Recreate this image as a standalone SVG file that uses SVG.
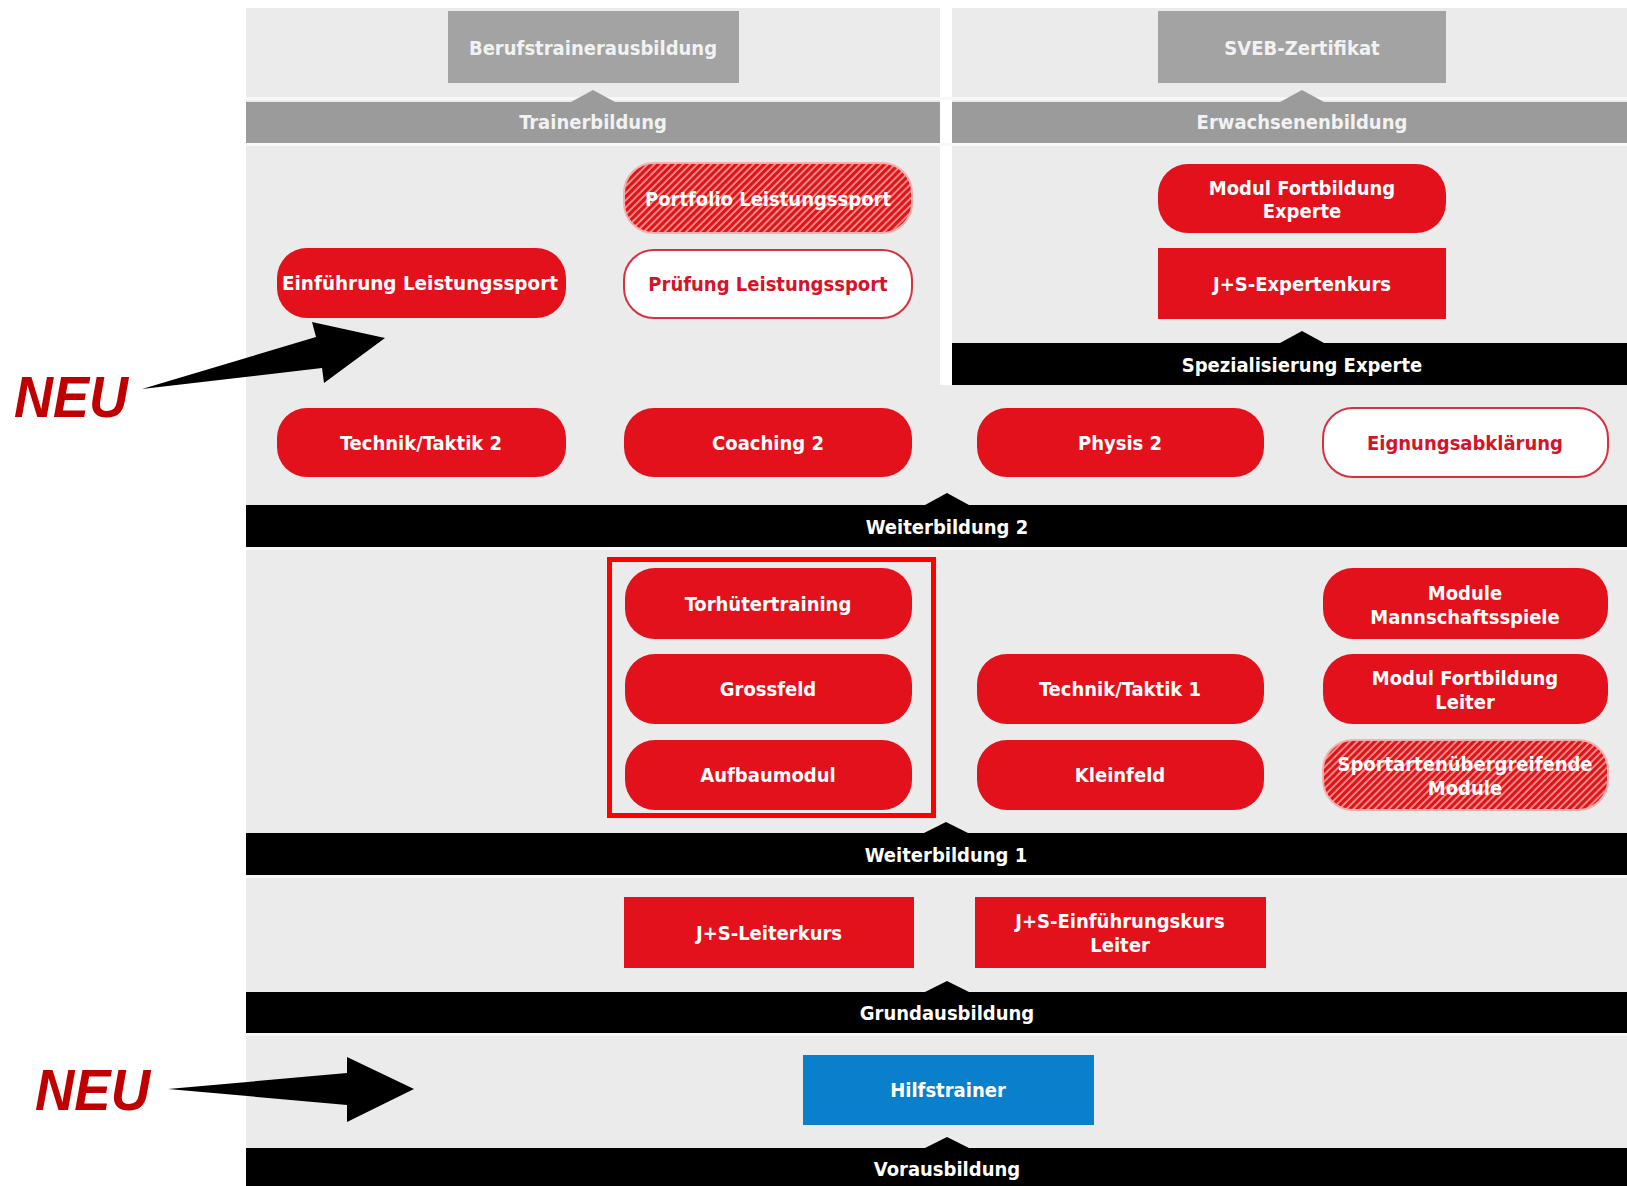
<svg xmlns="http://www.w3.org/2000/svg" width="1627" height="1186" viewBox="0 0 1627 1186">
<style>
.t{font-family:"Liberation Sans Narrow","DejaVu Sans Condensed","Liberation Sans",sans-serif;font-weight:bold;font-size:20px;fill:#ffffff;text-anchor:middle}
.tr{fill:#d4142a}
.tg{fill:#f2f2f2}
.red{fill:#e3111b}
.pill{fill:#e3111b}
.wpill{fill:#ffffff;stroke:#d83040;stroke-width:2}
.hpill{fill:url(#hatch);stroke:#f2b0b0;stroke-width:2}
.gbox{fill:#a3a3a3}
.gbar{fill:#9b9b9b}
.bbar{fill:#000000}
.neu{font-family:"Liberation Sans",sans-serif;font-weight:bold;font-style:italic;font-size:58px;fill:#c00000}
</style>
<defs>
<pattern id="hatch" patternUnits="userSpaceOnUse" width="5" height="5" patternTransform="rotate(45)">
<rect width="5" height="5" fill="#f49a8c"/>
<rect width="3.2" height="5" fill="#e3111b"/>
</pattern>
</defs>
<rect width="1627" height="1186" fill="#ffffff"/>
<g id="background">
<rect x="246" y="8" width="1381" height="1178" fill="#ebebeb"/>
<rect x="940" y="0" width="12" height="385" fill="#ffffff"/>
<rect x="246" y="97" width="1381" height="3" fill="#f8f8f8"/>
<rect x="246" y="143" width="1381" height="3" fill="#f8f8f8"/>
<rect x="246" y="547" width="1381" height="3" fill="#f8f8f8"/>
<rect x="246" y="875" width="1381" height="3" fill="#f8f8f8"/>
<rect x="246" y="1033" width="1381" height="3" fill="#f8f8f8"/>
</g>
<g id="bar-trainerbildung">
<rect class="gbar" x="246" y="102" width="694" height="41"/>
<text class="t tg" x="593" y="129">Trainerbildung</text>
</g>
<g id="bar-erwachsenenbildung">
<rect class="gbar" x="952" y="102" width="675" height="41"/>
<text class="t tg" x="1302" y="129">Erwachsenenbildung</text>
</g>
<g id="bar-spezialisierung">
<rect class="bbar" x="952" y="343" width="675" height="42"/>
<text class="t" x="1302" y="372">Spezialisierung Experte</text>
</g>
<g id="bar-weiterbildung2">
<rect class="bbar" x="246" y="505" width="1381" height="42"/>
<text class="t" x="947" y="534">Weiterbildung 2</text>
</g>
<g id="bar-weiterbildung1">
<rect class="bbar" x="246" y="833" width="1381" height="42"/>
<text class="t" x="946" y="862">Weiterbildung 1</text>
</g>
<g id="bar-grundausbildung">
<rect class="bbar" x="246" y="992" width="1381" height="41"/>
<text class="t" x="947" y="1020">Grundausbildung</text>
</g>
<g id="bar-vorausbildung">
<rect class="bbar" x="246" y="1148" width="1381" height="38"/>
<text class="t" x="947" y="1176">Vorausbildung</text>
</g>
<g id="connectors">
<polygon points="571,102 593,90 615,102" fill="#9b9b9b"/>
<polygon points="1280,102 1302,90 1324,102" fill="#9b9b9b"/>
<polygon points="1280,343 1302,331 1324,343" fill="#000"/>
<polygon points="925,505 947,493 969,505" fill="#000"/>
<polygon points="924,833 946,822 968,833" fill="#000"/>
<polygon points="925,992 947,981 969,992" fill="#000"/>
<polygon points="925,1148 947,1137 969,1148" fill="#000"/>
<polygon points="142,389 316,337 312,322 385,338 324,383 322,368" fill="#000"/>
<polygon points="168,1089 347,1073 347,1057 414,1089 347,1122 347,1105" fill="#000"/>
</g>
<g id="node-berufstrainerausbildung">
<rect class="gbox" x="448" y="11" width="291" height="72"/>
<text class="t tg" x="593" y="55">Berufstrainerausbildung</text>
</g>
<g id="node-sveb">
<rect class="gbox" x="1158" y="11" width="288" height="72"/>
<text class="t tg" x="1302" y="55">SVEB-Zertifikat</text>
</g>
<g id="node-portfolio">
<rect class="hpill" x="624" y="163" width="288" height="70" rx="30"/>
<text class="t" x="768" y="206">Portfolio Leistungssport</text>
</g>
<g id="node-pruefung">
<rect class="wpill" x="624" y="250" width="288" height="68" rx="30"/>
<text class="t tr" x="768" y="291">Prüfung Leistungssport</text>
</g>
<g id="node-einfuehrung">
<rect class="pill" x="277" y="248" width="289" height="70" rx="30"/>
<text class="t" x="420" y="290" textLength="276" lengthAdjust="spacingAndGlyphs">Einführung Leistungssport</text>
</g>
<g id="node-modul-fortbildung-experte">
<rect class="pill" x="1158" y="164" width="288" height="69" rx="30"/>
<text class="t" x="1302" y="195">Modul Fortbildung</text>
<text class="t" x="1302" y="218">Experte</text>
</g>
<g id="node-js-expertenkurs">
<rect class="red" x="1158" y="248" width="288" height="71"/>
<text class="t" x="1302" y="291">J+S-Expertenkurs</text>
</g>
<g id="node-technik-taktik-2">
<rect class="pill" x="277" y="408" width="289" height="69" rx="30"/>
<text class="t" x="421" y="450">Technik/Taktik 2</text>
</g>
<g id="node-coaching-2">
<rect class="pill" x="624" y="408" width="288" height="69" rx="30"/>
<text class="t" x="768" y="450">Coaching 2</text>
</g>
<g id="node-physis-2">
<rect class="pill" x="977" y="408" width="287" height="69" rx="30"/>
<text class="t" x="1120" y="450">Physis 2</text>
</g>
<g id="node-eignungsabklaerung">
<rect class="wpill" x="1323" y="408" width="285" height="69" rx="30"/>
<text class="t tr" x="1465" y="450">Eignungsabklärung</text>
</g>
<g id="node-torhuetertraining">
<rect class="pill" x="625" y="568" width="287" height="71" rx="30"/>
<text class="t" x="768" y="611">Torhütertraining</text>
</g>
<g id="node-grossfeld">
<rect class="pill" x="625" y="654" width="287" height="70" rx="30"/>
<text class="t" x="768" y="696">Grossfeld</text>
</g>
<g id="node-aufbaumodul">
<rect class="pill" x="625" y="740" width="287" height="70" rx="30"/>
<text class="t" x="768" y="782">Aufbaumodul</text>
</g>
<g id="highlight">
<rect x="609.5" y="559.5" width="324" height="256" fill="none" stroke="#ff0000" stroke-width="5"/>
</g>
<g id="node-technik-taktik-1">
<rect class="pill" x="977" y="654" width="287" height="70" rx="30"/>
<text class="t" x="1120" y="696">Technik/Taktik 1</text>
</g>
<g id="node-kleinfeld">
<rect class="pill" x="977" y="740" width="287" height="70" rx="30"/>
<text class="t" x="1120" y="782">Kleinfeld</text>
</g>
<g id="node-module-mannschaftsspiele">
<rect class="pill" x="1323" y="568" width="285" height="71" rx="30"/>
<text class="t" x="1465" y="600">Module</text>
<text class="t" x="1465" y="624">Mannschaftsspiele</text>
</g>
<g id="node-modul-fortbildung-leiter">
<rect class="pill" x="1323" y="654" width="285" height="70" rx="30"/>
<text class="t" x="1465" y="685">Modul Fortbildung</text>
<text class="t" x="1465" y="709">Leiter</text>
</g>
<g id="node-sportartenuebergreifende">
<rect class="hpill" x="1323" y="740" width="285" height="70" rx="30"/>
<text class="t" x="1465" y="771">Sportartenübergreifende</text>
<text class="t" x="1465" y="795">Module</text>
</g>
<g id="node-js-leiterkurs">
<rect class="red" x="624" y="897" width="290" height="71"/>
<text class="t" x="769" y="940">J+S-Leiterkurs</text>
</g>
<g id="node-js-einfuehrungskurs">
<rect class="red" x="975" y="897" width="291" height="71"/>
<text class="t" x="1120" y="928">J+S-Einführungskurs</text>
<text class="t" x="1120" y="952">Leiter</text>
</g>
<g id="node-hilfstrainer">
<rect x="803" y="1055" width="291" height="70" fill="#0a80cc"/>
<text class="t" x="948" y="1097">Hilfstrainer</text>
</g>
<g id="annotations">
<text class="neu" x="14" y="417" textLength="114" lengthAdjust="spacingAndGlyphs">NEU</text>
<text class="neu" x="35" y="1110" textLength="115" lengthAdjust="spacingAndGlyphs">NEU</text>
</g>
</svg>
